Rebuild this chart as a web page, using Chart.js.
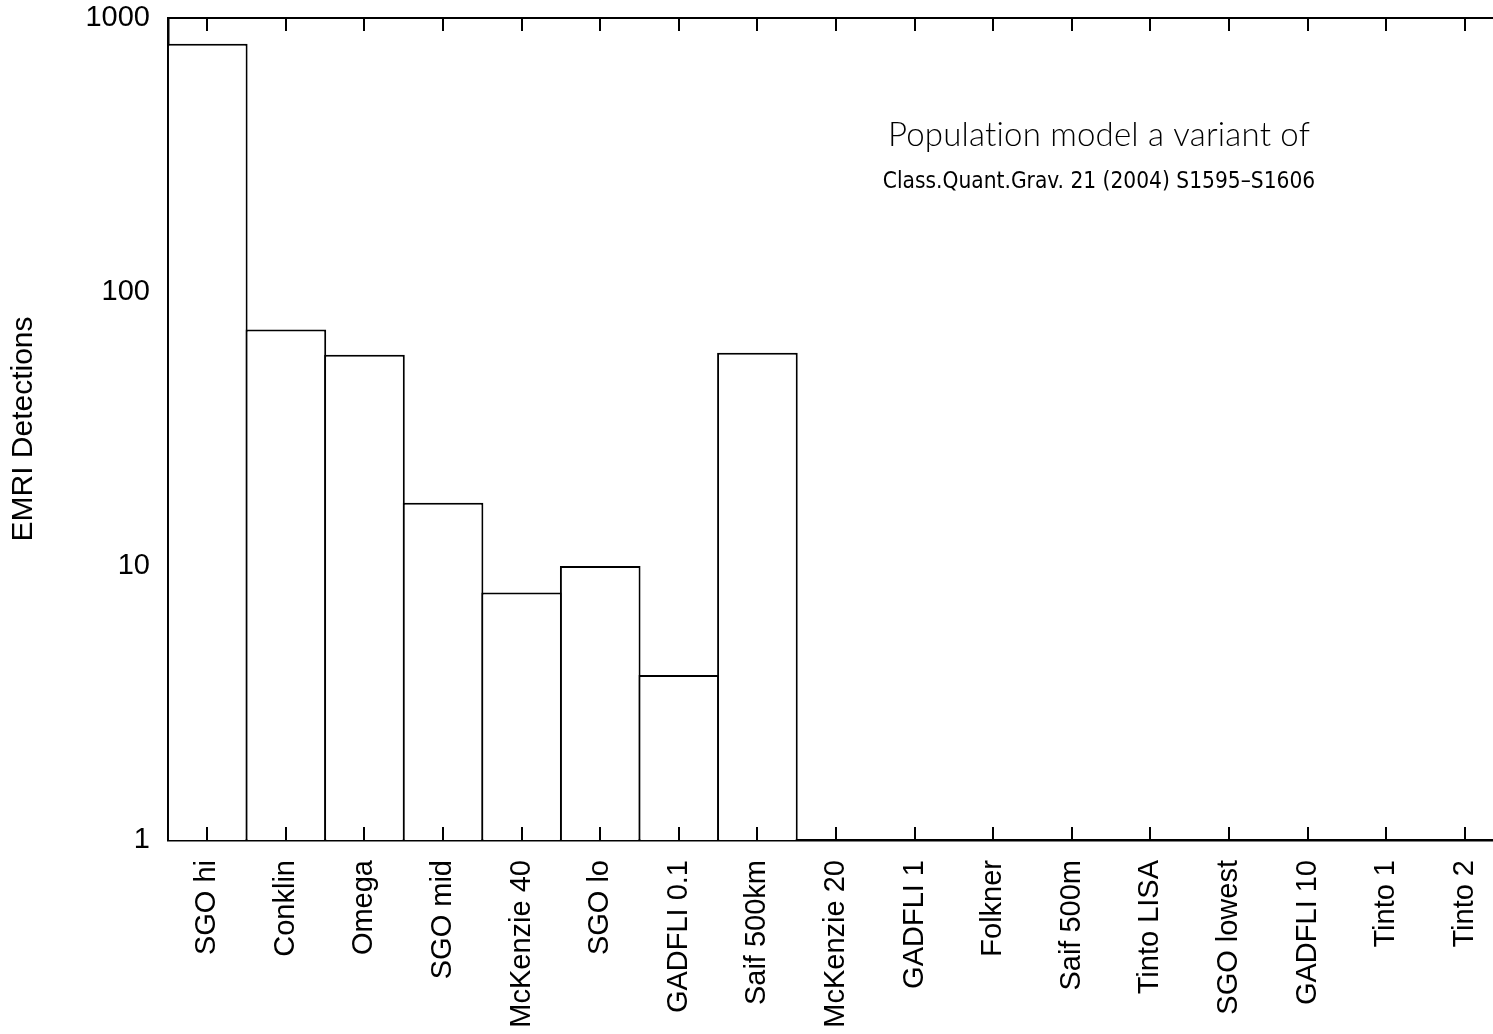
<!DOCTYPE html>
<html>
<head>
<meta charset="utf-8">
<script src="https://cdn.jsdelivr.net/npm/chart.js@4.4.1/dist/chart.umd.min.js"></script>
<style>
  html, body { margin: 0; padding: 0; background: #fff; overflow: hidden; }
  #wrap { width: 1504px; height: 1034px; }
</style>
</head>
<body>
<div id="wrap"><canvas id="c" width="1504" height="1034"></canvas></div>
<script>
const categories = ["SGO hi", "Conklin", "Omega", "SGO mid", "McKenzie 40", "SGO lo", "GADFLI 0.1", "Saif 500km", "McKenzie 20", "GADFLI 1", "Folkner", "Saif 500m", "Tinto LISA", "SGO lowest", "GADFLI 10", "Tinto 1", "Tinto 2"];
const detections = [805, 73, 59, 17, 8, 10, 4, 60, 0, 0, 0, 0, 0, 0, 0, 0, 0];
const yTicks = [1, 10, 100, 1000];
const yTitle = "EMRI Detections";
const noteLine1 = "Population model a variant of";
const noteLine2 = "Class.Quant.Grav. 21 (2004) S1595\u2013S1606";

const frame = {
  id: 'frame',
  afterDraw(chart) {
    const ctx = chart.ctx, a = chart.chartArea, xs = chart.scales.x;
    ctx.save();
    ctx.strokeStyle = '#000';
    // top border
    ctx.lineWidth = 2.2;
    ctx.beginPath();
    ctx.moveTo(a.left - 1, a.top);
    ctx.lineTo(a.right + 5, a.top);
    ctx.stroke();
    // inward tick marks
    ctx.lineWidth = 2;
    xs.ticks.forEach((t, i) => {
      const x = Math.round(xs.getPixelForTick(i));
      ctx.beginPath();
      ctx.moveTo(x, a.bottom);
      ctx.lineTo(x, a.bottom - 13);
      ctx.moveTo(x, a.top);
      ctx.lineTo(x, a.top + 13);
      ctx.stroke();
    });
    // annotation
    ctx.fillStyle = '#000';
    ctx.textAlign = 'center';
    ctx.textBaseline = 'alphabetic';
    ctx.font = '300 33px Lato, "Open Sans", sans-serif';
    try { ctx.letterSpacing = '0.2px'; } catch (e) {}
    ctx.fillText(noteLine1, 1099, 146);
    try { ctx.letterSpacing = '0px'; } catch (e) {}
    ctx.font = '22.5px "DejaVu Sans Condensed", "DejaVu Sans", sans-serif';
    const w = ctx.measureText(noteLine2).width;
    if (w > 440) ctx.font = '20.3px "DejaVu Sans", sans-serif';
    ctx.fillText(noteLine2, 1099, 188);
    ctx.restore();
  }
};

new Chart(document.getElementById('c'), {
  type: 'bar',
  data: {
    labels: categories,
    datasets: [{
      data: detections,
      backgroundColor: '#ffffff',
      borderColor: '#000000',
      borderWidth: 2,
      borderSkipped: 'start',
      barPercentage: 1.026,
      categoryPercentage: 1.0
    }]
  },
  options: {
    responsive: false,
    animation: false,
    devicePixelRatio: 1,
    layout: { padding: { top: 18, left: 0, right: 0, bottom: 0 } },
    plugins: { legend: { display: false }, tooltip: { enabled: false } },
    scales: {
      x: {
        type: 'category',
        offset: true,
        grid: { display: true, drawOnChartArea: false, drawTicks: false },
        border: { display: true, color: '#000', width: 2.5 },
        ticks: {
          color: '#000',
          font: { family: '"Liberation Sans", Arial, sans-serif', size: 29 },
          minRotation: 90, maxRotation: 90, autoSkip: false, padding: 20
        },
        afterFit(s) { s.height = 194; s.paddingLeft = 0; s.paddingRight = 0; }
      },
      y: {
        type: 'logarithmic',
        min: 1, max: 1000,
        afterBuildTicks(s) { s.ticks = yTicks.map(v => ({ value: v })); },
        grid: { display: true, drawOnChartArea: false, drawTicks: false },
        border: { display: true, color: '#000', width: 2.5 },
        ticks: {
          color: '#000',
          font: { family: '"Liberation Sans", Arial, sans-serif', size: 29 },
          padding: 18,
          callback: (v) => String(v)
        },
        title: {
          display: true, text: yTitle, color: '#000',
          font: { family: '"Liberation Sans", Arial, sans-serif', size: 30 },
          padding: { top: 6, bottom: 0 }
        },
        afterFit(s) { s.width = 168; s.paddingTop = 0; s.paddingBottom = 0; }
      }
    }
  },
  plugins: [frame]
});
</script>
</body>
</html>
